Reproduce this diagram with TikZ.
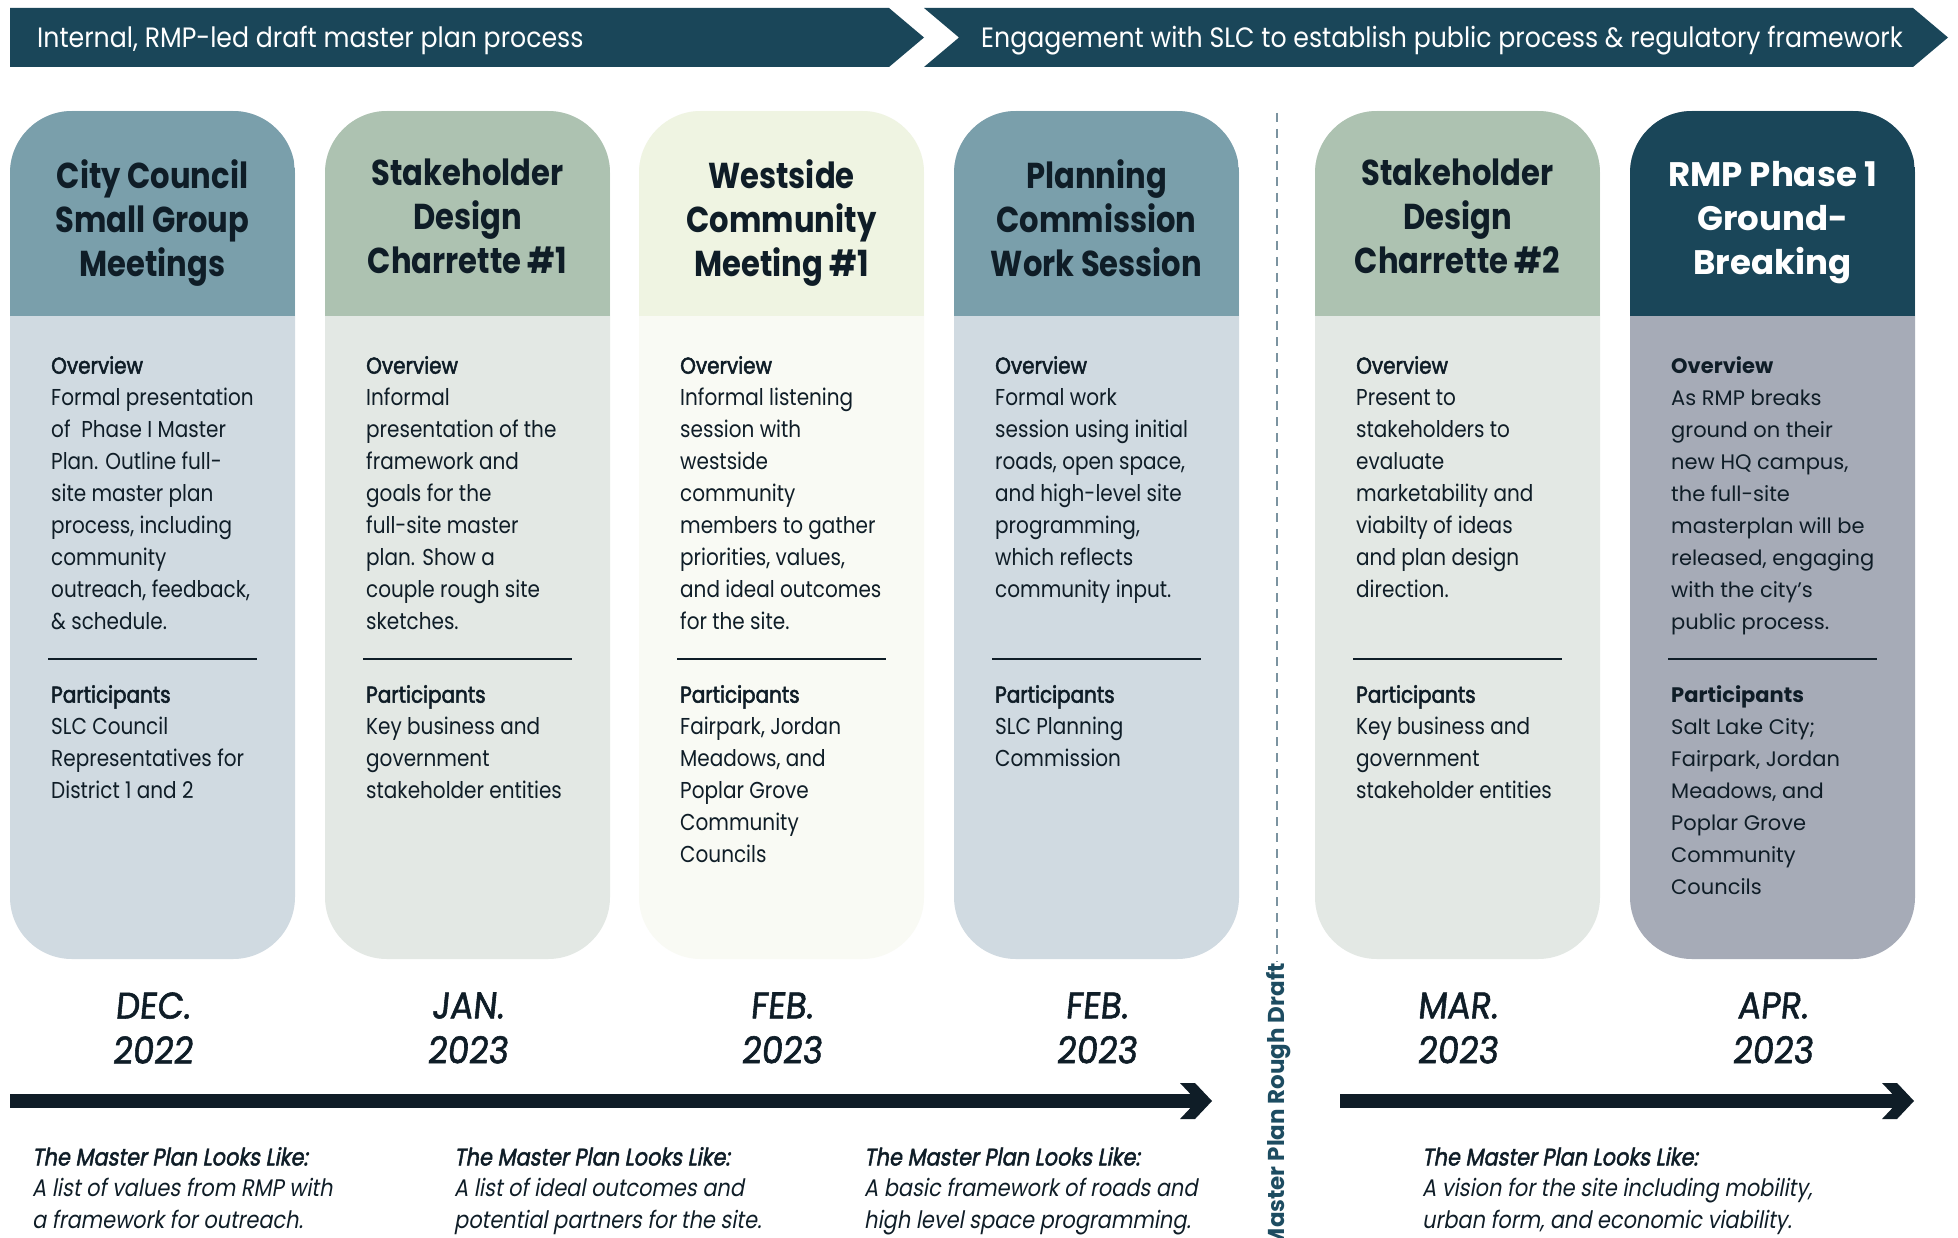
\documentclass[tikz,border=0pt]{standalone}
\usepackage{fontspec}
\setmainfont{Poppins}
\newfontfamily\fbody{Poppins}[FakeStretch=0.87]
\newfontfamily\fmed{Poppins}[FakeStretch=0.87,FakeBold=2.2]
\newfontfamily\ftitle{Poppins}[FakeStretch=0.85]
\newfontfamily\fital{Poppins}[FakeStretch=0.87,FakeSlant=0.18]
\newfontfamily\fitalm{Poppins}[FakeStretch=0.87,FakeSlant=0.18,FakeBold=2]
\newfontfamily\fdate{Poppins}[FakeStretch=0.92,FakeSlant=0.1,FakeBold=1.5]
\newfontfamily\fwide{Poppins}
\newfontfamily\fban{Poppins}[FakeStretch=0.9]
\definecolor{banner}{HTML}{1A4659}
\definecolor{ink}{HTML}{0F1D27}
\definecolor{hA}{HTML}{7A9FAB}
\definecolor{bA}{HTML}{D0DAE1}
\definecolor{hB}{HTML}{ADC2B1}
\definecolor{bB}{HTML}{E3E8E4}
\definecolor{hC}{HTML}{EFF4E2}
\definecolor{bC}{HTML}{F9FAF4}
\definecolor{hD}{HTML}{1A4659}
\definecolor{bD}{HTML}{A6ABB7}
\definecolor{vteal}{HTML}{1D4C61}
\definecolor{dashc}{HTML}{7B93A0}
\tikzset{
  cardbox/.style 2 args={fill=#1, rounded corners=62pt, minimum width=285pt,
    minimum height=848pt, inner sep=0pt, outer sep=0pt, anchor=north west,
    path picture={\fill[#2, sharp corners] (path picture bounding box.north west)
      rectangle ([yshift=-205pt]path picture bounding box.north east);}},
  title/.style={anchor=north, align=center, inner sep=0pt, text=ink,
    font=\ftitle\bfseries\fontsize{36}{44}\selectfont},
  body/.style={anchor=north west, align=left, inner sep=0pt, text=ink,
    font=\fbody\fontsize{23}{32}\selectfont},
  sepline/.style={draw=ink, line width=1.3pt},
  datelbl/.style={align=center, inner sep=0pt, text=ink,
    font=\fdate\fontsize{37}{45}\selectfont},
  looks/.style={anchor=north west, align=left, inner sep=0pt, text=ink,
    font=\fital\fontsize{24}{31.5}\selectfont},
  bantext/.style={anchor=base west, inner sep=0pt, text=white,
    font=\fban\fontsize{28}{30}\selectfont},
  tline/.style={draw=ink, line width=14pt},
  thead/.style={fill=ink},
  dashline/.style={draw=dashc, line width=1.5pt, dash pattern=on 9pt off 7pt},
}
\begin{document}
\begin{tikzpicture}[x=1pt,y=-1pt]
\useasboundingbox (0,0) rectangle (1958,1238);
\fill[white] (0,0) rectangle (1958,1238);

% banners
\fill[banner] (10,8) -- (889,8) -- (924,37.5) -- (889,67) -- (10,67) -- cycle;
\node[bantext] (ban1) at (37,47.5) {Internal, RMP-led draft master plan process};
\fill[banner] (924,8) -- (1913,8) -- (1948,37.5) -- (1913,67) -- (924,67) -- (959,37.5) -- cycle;
\node[bantext] (ban2) at (981,47.5) {Engagement with SLC to establish public process \& regulatory framework};

% card 1
\node[cardbox={bA}{hA}] (k1) at (10,111) {};
\node[title] (k1t) at ([yshift=-48pt]k1.north) {City Council\\Small Group\\Meetings};
\node[body] (k1o) at ([xshift=41pt,yshift=-245pt]k1.north west) {{\fmed Overview}\\Formal presentation\\of\ \ Phase I Master\\Plan. Outline full-\\site master plan\\process, including\\community\\outreach, feedback,\\\& schedule.};
\draw[sepline] ([xshift=38pt,yshift=-548pt]k1.north west) -- ([xshift=247pt,yshift=-548pt]k1.north west);
\node[body] (k1p) at ([xshift=41pt,yshift=-574pt]k1.north west) {{\fmed Participants}\\SLC Council\\Representatives for\\District 1 and 2};
\node[datelbl] (k1d) at ([yshift=-917pt]k1.north) {DEC.\\2022};

% card 2
\node[cardbox={bB}{hB}] (k2) at (325,111) {};
\node[title] (k2t) at ([yshift=-48pt]k2.north) {Stakeholder\\Design\\Charrette \#1};
\node[body] (k2o) at ([xshift=41pt,yshift=-245pt]k2.north west) {{\fmed Overview}\\Informal\\presentation of the\\framework and\\goals for the\\full-site master\\plan. Show a\\couple rough site\\sketches.};
\draw[sepline] ([xshift=38pt,yshift=-548pt]k2.north west) -- ([xshift=247pt,yshift=-548pt]k2.north west);
\node[body] (k2p) at ([xshift=41pt,yshift=-574pt]k2.north west) {{\fmed Participants}\\Key business and\\government\\stakeholder entities};
\node[datelbl] (k2d) at ([yshift=-917pt]k2.north) {JAN.\\2023};

% card 3
\node[cardbox={bC}{hC}] (k3) at (639,111) {};
\node[title] (k3t) at ([yshift=-48pt]k3.north) {Westside\\Community\\Meeting \#1};
\node[body] (k3o) at ([xshift=41pt,yshift=-245pt]k3.north west) {{\fmed Overview}\\Informal listening\\session with\\westside\\community\\members to gather\\priorities, values,\\and ideal outcomes\\for the site.};
\draw[sepline] ([xshift=38pt,yshift=-548pt]k3.north west) -- ([xshift=247pt,yshift=-548pt]k3.north west);
\node[body] (k3p) at ([xshift=41pt,yshift=-574pt]k3.north west) {{\fmed Participants}\\Fairpark, Jordan\\Meadows, and\\Poplar Grove\\Community\\Councils};
\node[datelbl] (k3d) at ([yshift=-917pt]k3.north) {FEB.\\2023};

% card 4
\node[cardbox={bA}{hA}] (k4) at (954,111) {};
\node[title] (k4t) at ([yshift=-48pt]k4.north) {Planning\\Commission\\Work Session};
\node[body] (k4o) at ([xshift=41pt,yshift=-245pt]k4.north west) {{\fmed Overview}\\Formal work\\session using initial\\roads, open space,\\and high-level site\\programming,\\which reflects\\community input.};
\draw[sepline] ([xshift=38pt,yshift=-548pt]k4.north west) -- ([xshift=247pt,yshift=-548pt]k4.north west);
\node[body] (k4p) at ([xshift=41pt,yshift=-574pt]k4.north west) {{\fmed Participants}\\SLC Planning\\Commission};
\node[datelbl] (k4d) at ([yshift=-917pt]k4.north) {FEB.\\2023};

% card 5
\node[cardbox={bB}{hB}] (k5) at (1315,111) {};
\node[title] (k5t) at ([yshift=-48pt]k5.north) {Stakeholder\\Design\\Charrette \#2};
\node[body] (k5o) at ([xshift=41pt,yshift=-245pt]k5.north west) {{\fmed Overview}\\Present to\\stakeholders to\\evaluate\\marketability and\\viabilty of ideas\\and plan design\\direction.};
\draw[sepline] ([xshift=38pt,yshift=-548pt]k5.north west) -- ([xshift=247pt,yshift=-548pt]k5.north west);
\node[body] (k5p) at ([xshift=41pt,yshift=-574pt]k5.north west) {{\fmed Participants}\\Key business and\\government\\stakeholder entities};
\node[datelbl] (k5d) at ([yshift=-917pt]k5.north) {MAR.\\2023};

% card 6
\node[cardbox={bD}{hD}] (k6) at (1630,111) {};
\node[title, text=white, font=\fwide\bfseries\fontsize{34}{44}\selectfont] (k6t) at ([yshift=-50pt]k6.north) {RMP Phase 1\\Ground-\\Breaking};
\node[body, font=\fwide\fontsize{21}{32}\selectfont] (k6o) at ([xshift=41pt,yshift=-245pt]k6.north west) {{\bfseries Overview}\\As RMP breaks\\ground on their\\new HQ campus,\\the full-site\\masterplan will be\\released, engaging\\with the city’s\\public process.};
\draw[sepline] ([xshift=38pt,yshift=-548pt]k6.north west) -- ([xshift=247pt,yshift=-548pt]k6.north west);
\node[body, font=\fwide\fontsize{21}{32}\selectfont] (k6p) at ([xshift=41pt,yshift=-574pt]k6.north west) {{\bfseries Participants}\\Salt Lake City;\\Fairpark, Jordan\\Meadows, and\\Poplar Grove\\Community\\Councils};
\node[datelbl] (k6d) at ([yshift=-917pt]k6.north) {APR.\\2023};

% divider
\coordinate (dv1) at (1277,113);
\coordinate (dv2) at (1277,962);
\draw[dashline] (dv1) -- (dv2);
\node[rotate=90, anchor=base east, inner sep=0pt, text=vteal,
  font=\fwide\bfseries\fontsize{23}{23}\selectfont] (rough) at (1284,963) {Master Plan Rough Draft};

% timelines
\coordinate (ta1) at (10,1101);
\coordinate (tb1) at (1212,1101);
\draw[tline] (ta1) -- ([xshift=-15pt]tb1);
\fill[thead] (tb1) -- ++(-17,18) -- ++(-15,0) -- ++(17,-18) -- ++(-17,-18) -- ++(15,0) -- cycle;
\coordinate (ta2) at (1340,1101);
\coordinate (tb2) at (1914,1101);
\draw[tline] (ta2) -- ([xshift=-15pt]tb2);
\fill[thead] (tb2) -- ++(-17,18) -- ++(-15,0) -- ++(17,-18) -- ++(-17,-18) -- ++(15,0) -- cycle;

% looks like
\node[looks] (lk1) at (32,1147) {{\fitalm The Master Plan Looks Like:}\\A list of values from RMP with\\a framework for outreach.};
\node[looks] (lk2) at (454,1147) {{\fitalm The Master Plan Looks Like:}\\A list of ideal outcomes and\\potential partners for the site.};
\node[looks] (lk3) at (864,1147) {{\fitalm The Master Plan Looks Like:}\\A basic framework of roads and\\high level space programming.};
\node[looks] (lk4) at (1422,1147) {{\fitalm The Master Plan Looks Like:}\\A vision for the site including mobility,\\urban form, and economic viability.};
\end{tikzpicture}
\end{document}
